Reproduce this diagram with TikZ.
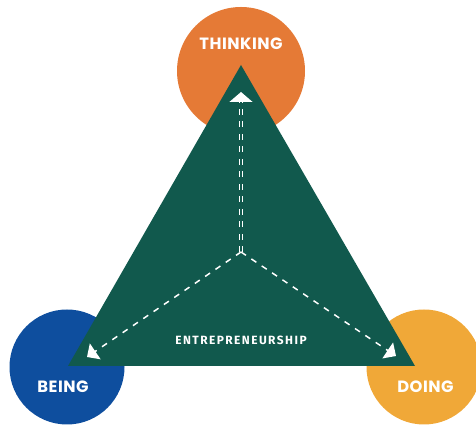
\documentclass[tikz,border=0pt]{standalone}
\usepackage{fontspec}
\usetikzlibrary{arrows.meta}
\newfontfamily\circlefont{Poppins}[LetterSpace=3]
\newfontfamily\hubfont{Fira Sans}[LetterSpace=12]

\definecolor{tri}{RGB}{17,89,77}
\definecolor{thinkorange}{RGB}{229,122,54}
\definecolor{beingblue}{RGB}{14,78,158}
\definecolor{doingyellow}{RGB}{240,168,56}

\tikzset{
  word/.style={text=white, font=\circlefont\bfseries\fontsize{9.3}{11}\selectfont},
  flow/.style={white, line width=0.85pt, dash pattern=on 3.4pt off 3.7pt},
  tip/.style={-{Triangle[length=0.2cm, width=0.38cm]}}
}

\begin{document}
\begin{tikzpicture}
  \useasboundingbox (0,0) rectangle (9.52,8.52);
  \clip (0,0) rectangle (9.52,8.52);

  % the three circles
  \fill [thinkorange] (4.82,7.10) circle [radius=1.28];
  \fill [beingblue] (1.34,1.18) circle [radius=1.15];
  \fill [doingyellow] (8.48,1.18) circle [radius=1.15];

  % triangle
  \coordinate (apex) at (4.82,7.22);
  \coordinate (left) at (1.36,1.20);
  \coordinate (right) at (8.30,1.20);
  \fill [tri] (apex) -- (left) -- (right) -- cycle;

  % arrows from the middle
  \coordinate (hub) at (4.82,3.48);
  \coordinate (tipT) at (4.82,6.68);
  \coordinate (tipL) at (1.74,1.38);
  \coordinate (tipR) at (7.92,1.40);
  \draw [flow, line width=0.8pt, double=tri, double distance=0.8pt,
    -{Triangle[length=0.2cm, width=0.46cm]}] (hub) -- (tipT);
  \draw [flow, tip] (hub) -- (tipL);
  \draw [flow, tip] (hub) -- (tipR);

  \node [word] (thinking) at (4.82,7.64) {THINKING};
  \node [word] (being) at (1.26,0.78) {BEING};
  \node [word] (doing) at (8.51,0.78) {DOING};
  \node [text=white, font=\hubfont\bfseries\fontsize{6.8}{8}\selectfont]
    (entre) at (4.82,1.72) {ENTREPRENEURSHIP};
\end{tikzpicture}
\end{document}
